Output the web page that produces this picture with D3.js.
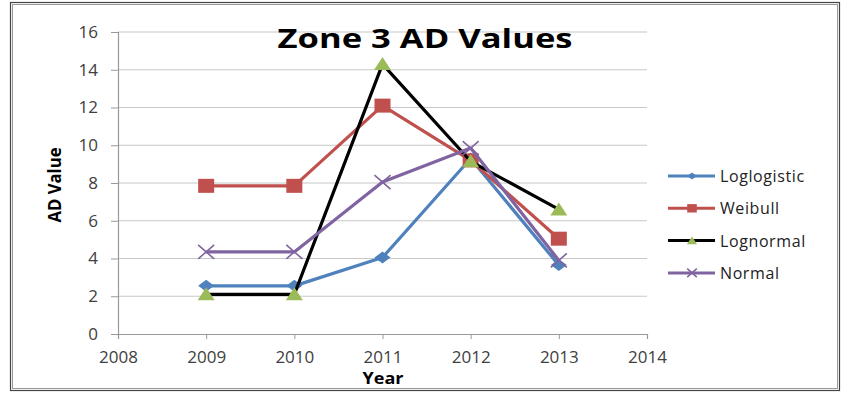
<!DOCTYPE html>
<html>
<head>
<meta charset="utf-8">
<script src="https://cdn.jsdelivr.net/npm/d3@7"></script>
<style>
  body { margin: 0; background: #fff; }
  svg { display: block; font-family: "Open Sans", Lato, sans-serif; }
</style>
</head>
<body>
<svg id="chart" width="848" height="394"></svg>
<script>
// data
const years = [2009, 2010, 2011, 2012, 2013];
const loglogistic = [2.55, 2.55, 4.05, 9.3, 3.65];
const weibull = [7.85, 7.85, 12.1, 9.2, 5.05];
const lognormal = [2.1, 2.1, 14.3, 9.15, 6.6];
const normal = [4.35, 4.35, 8.05, 9.85, 3.9];
const xTicks = [2008, 2009, 2010, 2011, 2012, 2013, 2014];
const yTicks = [0, 2, 4, 6, 8, 10, 12, 14, 16];

const series = [
  { name: "Loglogistic", values: loglogistic, line: "#4F81BD", fill: "#4F81BD", shape: "diamond" },
  { name: "Weibull", values: weibull, line: "#C0504D", fill: "#C0504D", shape: "square" },
  { name: "Lognormal", values: lognormal, line: "#000000", fill: "#9BBB59", shape: "triangle" },
  { name: "Normal", values: normal, line: "#8064A2", fill: "#8064A2", shape: "cross" }
];

const svg = d3.select("#chart");

// outer frame (double line)
svg.append("rect").attr("x", 10.5).attr("y", 2.5).attr("width", 829).attr("height", 388)
  .attr("fill", "none").attr("stroke", "#444").attr("stroke-width", 1.2);
svg.append("rect").attr("x", 12.5).attr("y", 4.5).attr("width", 825).attr("height", 384)
  .attr("fill", "none").attr("stroke", "#999").attr("stroke-width", 1);

const x = d3.scaleLinear().domain([2008, 2014]).range([118, 647]);
const y = d3.scaleLinear().domain([0, 16]).range([334, 32]);

// gridlines
svg.append("g").selectAll("line").data(yTicks.filter(d => d > 0)).enter().append("line")
  .attr("x1", x(2008)).attr("x2", x(2014))
  .attr("y1", d => y(d)).attr("y2", d => y(d))
  .attr("stroke", "#c8c8c8").attr("stroke-width", 1.2);

// axes
const yAxis = svg.append("g").attr("transform", `translate(${x(2008)},0)`)
  .call(d3.axisLeft(y).tickValues(yTicks).tickSize(7).tickPadding(13));
const xAxis = svg.append("g").attr("transform", `translate(0,${y(0)})`)
  .call(d3.axisBottom(x).tickValues(xTicks).tickFormat(d3.format("d")).tickSize(5).tickPadding(12));

[yAxis, xAxis].forEach(a => {
  a.select(".domain").attr("stroke", "#999").attr("stroke-width", 1.2);
  a.selectAll(".tick line").attr("stroke", "#999");
  a.selectAll(".tick text").attr("fill", "#404040").style("font-size", "17px")
    .style("font-family", "'Open Sans', Lato, sans-serif");
});

// marker shapes (the picture is a bit stretched sideways)
function marker(g, s, k) {
  if (s.shape === "diamond") {
    g.append("path").attr("d", `M0,${-6 * k}L${8 * k},0L0,${6 * k}L${-8 * k},0Z`).attr("fill", s.fill);
  } else if (s.shape === "square") {
    g.append("rect").attr("x", -8 * k).attr("y", -7 * k).attr("width", 16 * k).attr("height", 14 * k).attr("fill", s.fill);
  } else if (s.shape === "triangle") {
    g.append("path").attr("d", `M0,${-7 * k}L${8.5 * k},${6 * k}L${-8.5 * k},${6 * k}Z`).attr("fill", s.fill);
  } else {
    g.append("path").attr("d", `M${-8 * k},${-7 * k}L${8 * k},${7 * k}M${-8 * k},${7 * k}L${8 * k},${-7 * k}`)
      .attr("stroke", s.fill).attr("stroke-width", 1.6).attr("fill", "none");
  }
}

const line = d3.line().x((d, i) => x(years[i])).y(d => y(d));

series.forEach(s => {
  svg.append("path").datum(s.values).attr("d", line)
    .attr("fill", "none").attr("stroke", s.line).attr("stroke-width", 3.2)
    .attr("stroke-linejoin", "round");
  svg.append("g").selectAll("g").data(s.values).enter().append("g")
    .attr("transform", (d, i) => `translate(${x(years[i])},${y(d)})`)
    .each(function() { marker(d3.select(this), s, 1); });
});

// title
svg.append("text").attr("x", 425).attr("y", 48).attr("text-anchor", "middle")
  .attr("textLength", 295).attr("lengthAdjust", "spacingAndGlyphs")
  .style("font-size", "27px").style("font-weight", "bold").attr("fill", "#000")
  .text("Zone 3 AD Values");

// axis titles
svg.append("text").attr("transform", "translate(61,185) rotate(-90)").attr("text-anchor", "middle")
  .attr("textLength", 75).attr("lengthAdjust", "spacingAndGlyphs")
  .style("font-size", "17px").style("font-weight", "bold").text("AD Value");
svg.append("text").attr("x", 383).attr("y", 384).attr("text-anchor", "middle")
  .attr("textLength", 41).attr("lengthAdjust", "spacingAndGlyphs")
  .style("font-size", "16px").style("font-weight", "bold").text("Year");

// legend
const legend = svg.append("g").selectAll("g").data(series).enter().append("g")
  .attr("transform", (d, i) => `translate(668,${176 + i * 32.3})`);
legend.append("line").attr("x1", 0).attr("x2", 47).attr("stroke", d => d.line).attr("stroke-width", 3);
legend.append("g").attr("transform", "translate(24,0)").each(function(d) { marker(d3.select(this), d, 0.6); });
legend.append("text").attr("x", 52).attr("y", 6).style("font-size", "16px").attr("fill", "#222")
  .style("letter-spacing", "0.6px").text(d => d.name);
</script>
</body>
</html>
